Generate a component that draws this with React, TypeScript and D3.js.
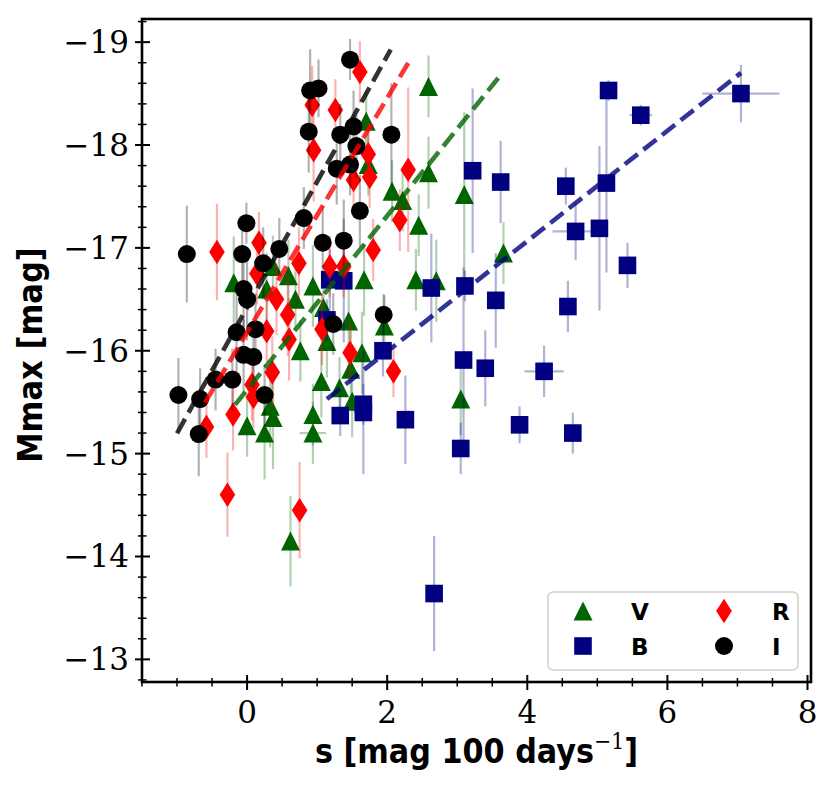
import React from 'react';
import * as d3 from 'd3';

// ---- data (s [mag/100d], Mmax [mag], y-error, x-error) ----
const vS = [-0.19, 0.37, 0.28, 0.59, 0.94, 0.69, 1.09, 1.45, 1.67, 1.96, 2.41, 2.45, 2.22, 0.76, 1.14, 1.64, 1.48, 1.06, 1.32, 1.50, 0.33, 0.37, 0.00, 0.25, 0.94, 0.94, 0.62, 3.05, 1.70, 1.73, 2.07, 2.59, 2.59, 2.70, 3.10, 3.66];
const vM = [-16.66, -16.82, -16.60, -16.73, -16.63, -16.50, -16.42, -16.29, -16.69, -16.24, -16.69, -17.22, -17.46, -16.00, -16.09, -15.98, -15.82, -15.70, -15.64, -15.51, -15.46, -15.35, -15.27, -15.20, -15.38, -15.20, -14.15, -15.53, -18.23, -17.81, -17.55, -17.73, -18.57, -16.68, -17.52, -16.95];
const vErr = [0.45, 0.3, 0.35, 0.35, 0.4, 0.3, 0.35, 0.5, 0.35, 0.3, 0.3, 0.3, 0.3, 0.3, 0.35, 0.4, 0.4, 0.35, 0.3, 0.35, 0.4, 0.5, 0.3, 0.45, 0.3, 0.3, 0.44, 0.35, 0.3, 0.3, 0.3, 0.35, 0.3, 0.4, 0.8, 0.3];
const vXErr = [0, 0, 0, 0, 0, 0, 0, 0, 0, 0, 0, 0, 0, 0, 0, 0, 0, 0, 0, 0, 0, 0, 0, 0, 0, 0.19, 0, 0, 0, 0, 0, 0, 0, 0, 0, 0];

const bS = [7.05, 5.16, 5.62, 3.22, 3.62, 4.55, 5.13, 4.69, 5.03, 5.43, 4.58, 2.63, 3.11, 3.55, 3.09, 3.40, 4.24, 3.89, 4.65, 2.26, 3.05, 2.67, 1.33, 1.66, 1.66, 1.94, 1.18, 1.38, 1.14];
const bM = [-18.50, -18.53, -18.29, -17.75, -17.64, -17.60, -17.63, -17.16, -17.19, -16.83, -16.43, -16.61, -16.63, -16.49, -15.91, -15.83, -15.80, -15.28, -15.20, -15.33, -15.05, -13.64, -15.37, -15.48, -15.40, -16.00, -16.69, -16.68, -16.30];
const bErr = [0.28, 0.1, 0.1, 0.8, 0.4, 0.18, 0.87, 0.28, 0.8, 0.22, 0.25, 0.53, 0.15, 0.46, 0.9, 0.37, 0.25, 0.18, 0.2, 0.43, 0.25, 0.56, 0.2, 0.2, 0.6, 0.25, 0.3, 0.6, 0.2];
const bXErr = [0.55, 0, 0.16, 0, 0, 0, 0, 0.33, 0, 0, 0, 0, 0, 0, 0, 0, 0.28, 0, 0, 0, 0.12, 0, 0, 0, 0, 0, 0, 0, 0];

const rS = [-0.43, 0.17, 0.14, 0.74, 1.18, 1.38, 1.80, 2.18, 2.30, 1.73, 1.75, 1.52, 1.61, 0.93, 1.26, 0.95, 0.42, 0.58, 0.28, 0.60, 0.36, 0.07, 0.09, -0.20, -0.58, 1.07, 1.47, 2.09, -0.28, 0.75];
const rM = [-16.96, -17.05, -16.75, -16.85, -16.82, -16.82, -16.98, -17.27, -17.76, -17.91, -17.69, -17.66, -18.71, -18.39, -18.34, -17.95, -16.50, -16.35, -16.19, -16.11, -15.79, -15.67, -15.55, -15.38, -15.26, -16.21, -15.98, -15.80, -14.60, -14.45];
const rErr = [0.47, 0.3, 0.3, 0.35, 0.3, 0.3, 0.3, 0.3, 0.8, 0.3, 0.3, 0.3, 0.3, 0.38, 0.3, 0.5, 0.35, 0.4, 0.3, 0.4, 0.35, 0.35, 0.3, 0.35, 0.3, 0.35, 0.3, 0.25, 0.41, 0.47];
const rXErr = rS.map(() => 0);

const iS = [-0.98, -0.86, -0.69, -0.67, -0.45, -0.21, -0.15, -0.01, -0.07, -0.05, 0.00, -0.05, 0.09, 0.12, 0.23, 0.46, 0.25, 0.81, 1.08, 1.38, 1.23, 1.95, 1.61, 1.47, 0.90, 1.02, 0.88, 1.33, 1.52, 1.56, 1.28, 1.47, 2.06];
const iM = [-15.57, -16.94, -15.19, -15.53, -15.72, -15.72, -16.18, -17.24, -16.94, -16.60, -16.50, -15.96, -15.94, -16.21, -16.85, -16.99, -15.57, -17.29, -17.05, -17.07, -16.26, -16.35, -17.36, -18.83, -18.53, -18.55, -18.13, -18.10, -18.18, -17.99, -17.77, -17.81, -18.10];
const iErr = [0.36, 0.47, 0.41, 0.3, 0.3, 0.3, 0.4, 0.2, 0.35, 0.4, 0.4, 0.35, 0.3, 0.35, 0.35, 0.3, 0.3, 0.3, 0.35, 0.4, 0.3, 0.2, 0.35, 0.2, 0.4, 0.28, 0.4, 0.3, 0.35, 0.3, 0.35, 0.3, 0.5];
const iXErr = iS.map(() => 0);

// linear fits: slope, intercept, x start, x end
const fitBands = ['V', 'B', 'R', 'I'];
const fitSlope = [-0.8455, -0.5364, -1.138, -1.223];
const fitIntercept = [-15.62, -14.92, -16.18, -16.42];
const fitX0 = [-0.17, 1.14, -0.6, -1.0];
const fitX1 = [3.65, 7.05, 2.3, 2.05];

const xTicks = [0, 2, 4, 6, 8];
const yTicks = [-19, -18, -17, -16, -15, -14, -13];

const legendLabels = ['V', 'B', 'R', 'I'];

// ---- layout ----
const W = 830, H = 786;
const L = 142, R = 811, T = 19, B = 682;

const x = d3.scaleLinear().domain([-1.5, 8.05]).range([L, R]);
const y = d3.scaleLinear().domain([-12.78, -19.225]).range([B, T]);

const colors: Record<string, string> = { V: '#006400', B: '#000080', R: '#ff0000', I: '#000000' };

function Marker({ kind, cx, cy, color }: { kind: string; cx: number; cy: number; color: string }) {
  if (kind === 'V') {
    const h = 9.5;
    return <path d={`M${cx},${cy - h}L${cx + h},${cy + h}L${cx - h},${cy + h}Z`} fill={color} />;
  }
  if (kind === 'B') {
    const h = 8.8;
    return <rect x={cx - h} y={cy - h} width={2 * h} height={2 * h} fill={color} />;
  }
  if (kind === 'R') {
    const w = 7.8, hh = 12.3;
    return <path d={`M${cx},${cy - hh}L${cx + w},${cy}L${cx},${cy + hh}L${cx - w},${cy}Z`} fill={color} />;
  }
  return <circle cx={cx} cy={cy} r={9} fill={color} />;
}

const series = [
  { key: 'V', s: vS, m: vM, e: vErr, xe: vXErr },
  { key: 'B', s: bS, m: bM, e: bErr, xe: bXErr },
  { key: 'R', s: rS, m: rM, e: rErr, xe: rXErr },
  { key: 'I', s: iS, m: iM, e: iErr, xe: iXErr },
];

export default function App() {
  const xMinor = d3.range(-1.5, 8.01, 0.5).filter((v) => Math.abs(v / 2 - Math.round(v / 2)) > 1e-6);
  const yMinor = d3.range(-19.2, -12.79, 0.2).filter((v) => Math.abs(v - Math.round(v)) > 1e-6);
  const serif = '"DejaVu Serif", serif';
  const sans = '"DejaVu Sans", sans-serif';
  return (
    <svg width={W} height={H} style={{ position: 'absolute', left: 0, top: 0, background: '#fff' }}>
      <rect x={0} y={0} width={W} height={H} fill="#fff" />
      <defs>
        <clipPath id="plotclip">
          <rect x={L} y={T} width={R - L} height={B - T} />
        </clipPath>
      </defs>
      <g clipPath="url(#plotclip)">
        {series.map((sr) => (
          <g key={sr.key}>
            {sr.s.map((sv, i) => (
              <g key={i} stroke={colors[sr.key]} strokeOpacity={0.3} strokeWidth={2.2}>
                <line x1={x(sv)} x2={x(sv)} y1={y(sr.m[i] - sr.e[i])} y2={y(sr.m[i] + sr.e[i])} />
                {sr.xe[i] > 0 && (
                  <line x1={x(sv - sr.xe[i])} x2={x(sv + sr.xe[i])} y1={y(sr.m[i])} y2={y(sr.m[i])} />
                )}
              </g>
            ))}
            {sr.s.map((sv, i) => (
              <Marker key={'m' + i} kind={sr.key} cx={x(sv)} cy={y(sr.m[i])} color={colors[sr.key]} />
            ))}
          </g>
        ))}
        {fitBands.map((b, k) => (
          <line
            key={b}
            x1={x(fitX0[k])}
            x2={x(fitX1[k])}
            y1={y(fitIntercept[k] + fitSlope[k] * fitX0[k])}
            y2={y(fitIntercept[k] + fitSlope[k] * fitX1[k])}
            stroke={colors[b]}
            strokeOpacity={0.8}
            strokeWidth={4.6}
            strokeDasharray="16.5 7.2"
          />
        ))}
      </g>
      {/* frame */}
      <rect x={L} y={T} width={R - L} height={B - T} fill="none" stroke="#000" strokeWidth={2.6} />
      {/* y ticks */}
      {yTicks.map((t) => (
        <g key={t}>
          <line x1={L - 7} x2={L + 8} y1={y(t)} y2={y(t)} stroke="#000" strokeWidth={2} />
          <text x={L - 13} y={y(t) + 11} textAnchor="end" fontFamily={serif} fontSize={31}>
            {'\u2212' + Math.abs(t)}
          </text>
        </g>
      ))}
      {yMinor.map((t) => (
        <line key={'ym' + t} x1={L - 4} x2={L + 4.5} y1={y(t)} y2={y(t)} stroke="#000" strokeWidth={1.5} />
      ))}
      {/* x ticks */}
      {xTicks.map((t) => (
        <g key={t}>
          <line x1={x(t)} x2={x(t)} y1={B - 7} y2={B + 8} stroke="#000" strokeWidth={2} />
          <text x={x(t)} y={B + 41} textAnchor="middle" fontFamily={serif} fontSize={31}>
            {String(t)}
          </text>
        </g>
      ))}
      {xMinor.map((t) => (
        <line key={'xm' + t} x1={x(t)} x2={x(t)} y1={B - 4} y2={B + 4.5} stroke="#000" strokeWidth={1.5} />
      ))}
      {/* axis labels */}
      <g transform={`translate(42, 355) rotate(-90) scale(0.9, 1)`}>
        <text x={0} y={0} textAnchor="middle" fontFamily={sans} fontWeight="bold" fontSize={34}>
          Mmax [mag]
        </text>
      </g>
      <g transform={`translate(${(L + R) / 2}, 763) scale(0.89, 1)`}>
        <text x={0} y={0} textAnchor="middle" fontFamily={sans} fontWeight="bold" fontSize={34}>
          s [mag 100 days
          <tspan fontFamily={serif} fontWeight="normal" fontSize={23} dy={-14}>{'\u22121'}</tspan>
          <tspan dy={14}>]</tspan>
        </text>
      </g>
      {/* legend */}
      <rect x={548} y={592} width={250} height={78} rx={5} fill="#fff" fillOpacity={0.8} stroke="#d0d0d0" strokeWidth={1.5} />
      {legendLabels.map((lab, k) => {
        const col = Math.floor(k / 2);
        const row = k % 2;
        const mx = col === 0 ? 583 : 724;
        const tx = col === 0 ? 631 : 772;
        const my = row === 0 ? 611 : 646;
        return (
          <g key={lab}>
            <Marker kind={lab} cx={mx} cy={my} color={colors[lab]} />
            <text x={tx} y={my + 9} fontFamily={sans} fontWeight="bold" fontSize={23}>
              {lab}
            </text>
          </g>
        );
      })}
    </svg>
  );
}
